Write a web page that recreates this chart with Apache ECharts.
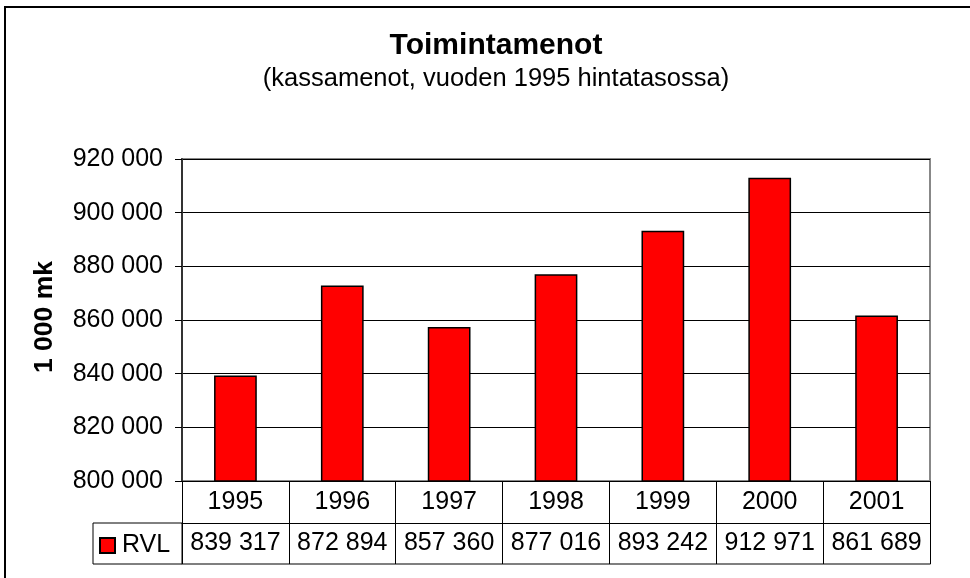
<!DOCTYPE html>
<html>
<head>
<meta charset="utf-8">
<script src="https://cdn.jsdelivr.net/npm/echarts@6/dist/echarts.min.js"></script>
<style>
html,body{margin:0;padding:0;background:#fff;}
#chart{width:970px;height:578px;}
</style>
</head>
<body>
<div id="chart"></div>
<script>
const titleText = 'Toimintamenot';
const subtitleText = '(kassamenot, vuoden 1995 hintatasossa)';
const yAxisName = '1 000 mk';
const seriesName = 'RVL';
const years = ['1995', '1996', '1997', '1998', '1999', '2000', '2001'];
const values = [839317, 872894, 857360, 877016, 893242, 912971, 861689];
const yMin = 800000;
const yMax = 920000;
const yStep = 20000;

const FONT = '"Liberation Sans", Arial, sans-serif';
function fmt(n) {
  return String(n).replace(/\B(?=(\d{3})+(?!\d))/g, ' ');
}
const valueLabels = values.map(fmt);

const chart = echarts.init(document.getElementById('chart'), null, {renderer: 'canvas'});
const option = {
  backgroundColor: '#ffffff',
  animation: false,
  textStyle: {fontFamily: FONT, color: '#000'},
  grid: {
    left: 182, right: 40, top: 159, bottom: 97,
    show: true, borderColor: '#888', borderWidth: 2, backgroundColor: 'transparent'
  },
  legend: {
    show: true,
    left: 99, top: 533,
    padding: 0,
    itemWidth: 15, itemHeight: 15,
    icon: 'rect',
    textStyle: {fontFamily: FONT, fontSize: 25, color: '#000', padding: [0, 0, 0, 2]},
    data: [seriesName]
  },
  graphic: [
    {type: 'rect', silent: true, shape: {x: 5, y: 7, width: 1000, height: 620},
     style: {fill: 'none', stroke: '#000', lineWidth: 2}},
    {type: 'rect', silent: true, shape: {x: 93, y: 523, width: 89, height: 41},
     style: {fill: 'none', stroke: '#000', lineWidth: 1}},
    {type: 'text', silent: true, x: 496, y: 46,
     style: {text: titleText, font: 'bold 30px ' + FONT, fill: '#000', textAlign: 'center', textVerticalAlign: 'middle'}},
    {type: 'text', silent: true, x: 496, y: 79,
     style: {text: subtitleText, font: '25.5px ' + FONT, fill: '#000', textAlign: 'center', textVerticalAlign: 'middle'}}
  ],
  xAxis: [
    {
      type: 'category', data: years, position: 'bottom', gridIndex: 0,
      axisLine: {show: true, lineStyle: {color: '#000', width: 1}},
      axisTick: {show: true, interval: 0, alignWithLabel: false, length: 42, lineStyle: {color: '#000', width: 1}},
      axisLabel: {interval: 0, fontFamily: FONT, fontSize: 25, color: '#000', margin: 9},
      splitLine: {show: false}
    },
    {
      type: 'category', data: valueLabels, position: 'bottom', offset: 42, gridIndex: 0,
      axisLine: {show: true, lineStyle: {color: '#000', width: 1}},
      axisTick: {show: true, interval: 0, alignWithLabel: false, length: 41, lineStyle: {color: '#000', width: 1}},
      axisLabel: {interval: 0, fontFamily: FONT, fontSize: 25, color: '#000', margin: 8},
      splitLine: {show: false}
    },
    {
      type: 'category', data: years, position: 'bottom', offset: 83, gridIndex: 0,
      axisLine: {show: true, lineStyle: {color: '#555', width: 1.5}},
      axisTick: {show: false},
      axisLabel: {show: false},
      splitLine: {show: false}
    }
  ],
  yAxis: {
    type: 'value', min: yMin, max: yMax, interval: yStep,
    name: yAxisName, nameLocation: 'middle', nameRotate: 90, nameGap: 124,
    nameTextStyle: {fontFamily: FONT, fontSize: 26.5, fontWeight: 'bold', color: '#000', padding: [0, 0, 0, 6]},
    axisLine: {show: true, lineStyle: {color: '#333', width: 2}},
    axisTick: {show: true, length: 7, lineStyle: {color: '#000', width: 1}},
    axisLabel: {fontFamily: FONT, fontSize: 25, color: '#000', margin: 19, formatter: v => fmt(v)},
    splitLine: {show: true, lineStyle: {color: '#000', width: 1}}
  },
  series: [{
    name: seriesName,
    type: 'bar',
    xAxisIndex: 0,
    data: values,
    barWidth: '40%',
    itemStyle: {color: '#ff0000', borderColor: '#000', borderWidth: 1.5}
  }]
};
chart.setOption(option);
</script>
</body>
</html>
